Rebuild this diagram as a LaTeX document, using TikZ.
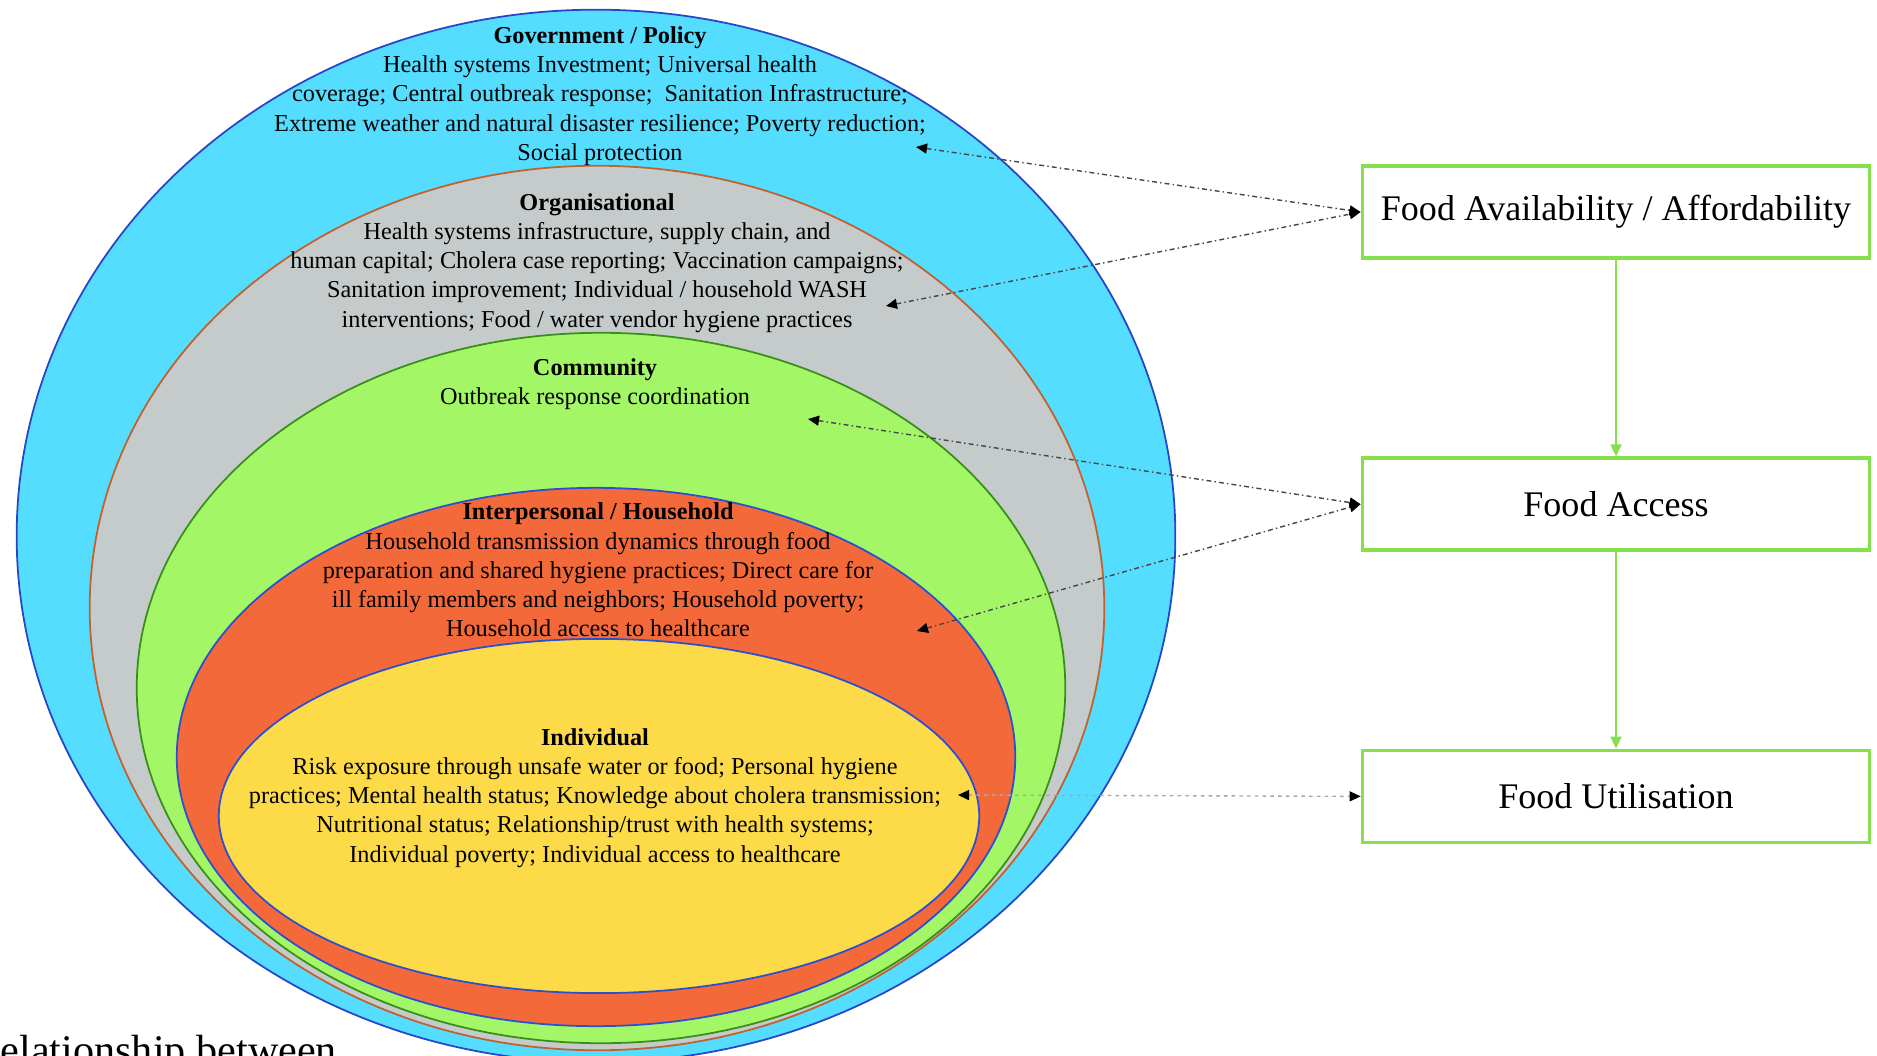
\documentclass[tikz,border=0pt]{standalone}
\usepackage{fontspec}
\setmainfont{Liberation Serif}
\usepackage{xcolor}
\usepackage{tikz}
\usetikzlibrary{shapes.geometric,arrows.meta,positioning}

\definecolor{govfill}{HTML}{55DDFF}
\definecolor{govline}{HTML}{2546C8}
\definecolor{orgfill}{HTML}{C5CBCB}
\definecolor{orgline}{HTML}{C0622F}
\definecolor{comfill}{HTML}{A3F766}
\definecolor{comline}{HTML}{3A8F1A}
\definecolor{hhfill}{HTML}{F4693A}
\definecolor{indfill}{HTML}{FDDA47}
\definecolor{innerline}{HTML}{2A4FD0}
\definecolor{boxgreen}{HTML}{86E04E}

\begin{document}
\begin{tikzpicture}[
  x=0.01cm, y=-0.01cm,
  node distance=1.965cm,
  lvl/.style={ellipse, inner sep=0pt, line width=0.5pt},
  lvtxt/.style={align=center, inner sep=0pt, font=\fontsize{6.9}{8.3}\selectfont},
  fbox/.style={rectangle, draw=boxgreen, line width=1pt, fill=white, minimum width=5.07cm, minimum height=0.92cm, font=\fontsize{10.25}{12}\selectfont},
  link/.style={arrows={Triangle[length=1.1mm,width=1mm,color=black]-Triangle[length=1.1mm,width=1mm,color=black]}, draw=gray!55!black, line width=0.4pt, dash pattern=on 1.4pt off 0.9pt on 0.4pt off 0.9pt},
  flow/.style={-{Triangle[length=1.2mm,width=1.1mm]}, draw=boxgreen, line width=0.6pt}
]
\useasboundingbox (0,0) rectangle (1877,1055);
\clip (0,0) rectangle (1877,1055);

\node[lvl, fill=govfill, draw=govline, minimum width=11.58cm, minimum height=10.52cm] (gov) at (596,536) {};
\node[lvl, fill=orgfill, draw=orgline, minimum width=10.14cm, minimum height=8.84cm] (org) at (597,608) {};
\node[lvl, fill=comfill, draw=comline, minimum width=9.28cm, minimum height=7.10cm] (com) at (601,688) {};
\node[lvl, fill=hhfill, draw=innerline, minimum width=8.38cm, minimum height=5.38cm] (hh) at (596,757) {};
\node[lvl, fill=indfill, draw=innerline, minimum width=7.60cm, minimum height=3.54cm] (ind) at (599,816) {};

\node[lvtxt] (govtxt) at (600,96) {\textbf{Government / Policy}\\Health systems Investment; Universal health\\coverage; Central outbreak response;\ \ Sanitation Infrastructure;\\Extreme weather and natural disaster resilience; Poverty reduction;\\Social protection};
\node[lvtxt] (orgtxt) at (597,263) {\textbf{Organisational}\\Health systems infrastructure, supply chain, and\\human capital; Cholera case reporting; Vaccination campaigns;\\Sanitation improvement; Individual / household WASH\\interventions; Food / water vendor hygiene practices};
\node[lvtxt] (comtxt) at (595,384) {\textbf{Community}\\Outbreak response coordination};
\node[lvtxt] (hhtxt) at (598,570) {\textbf{Interpersonal / Household}\\Household transmission dynamics through food\\preparation and shared hygiene practices; Direct care for\\ill family members and neighbors; Household poverty;\\Household access to healthcare};
\node[lvtxt] (indtxt) at (595,798) {\textbf{Individual}\\Risk exposure through unsafe water or food; Personal hygiene\\practices; Mental health status; Knowledge about cholera transmission;\\Nutritional status; Relationship/trust with health systems;\\Individual poverty; Individual access to healthcare};

\coordinate (govpt) at (916,147);
\coordinate (orgpt) at (886,306);
\coordinate (compt) at (808,419);
\coordinate (hhpt) at (917,631);
\coordinate (indpt) at (958,795);

\node[fbox] (avail) at (1616,212) {Food Availability / Affordability};
\node[fbox, below=of avail] (access) {Food Access};
\node[fbox, below=of access] (util) {Food Utilisation};

\draw[flow] (avail) -- (access);
\draw[flow] (access) -- (util);

\draw[link] (govpt) -- (avail.west);
\draw[link] (orgpt) -- (avail.west);
\draw[link] (compt) -- (access.west);
\draw[link] (hhpt) -- (access.west);
\draw[link, draw=gray!70, dash pattern=on 1pt off 1.2pt] (indpt) -- (util.west);

\node[anchor=base west, inner sep=0pt, font=\fontsize{12}{14}\selectfont] (capfrag) at (0,1064) {elationship between};
\end{tikzpicture}
\end{document}
